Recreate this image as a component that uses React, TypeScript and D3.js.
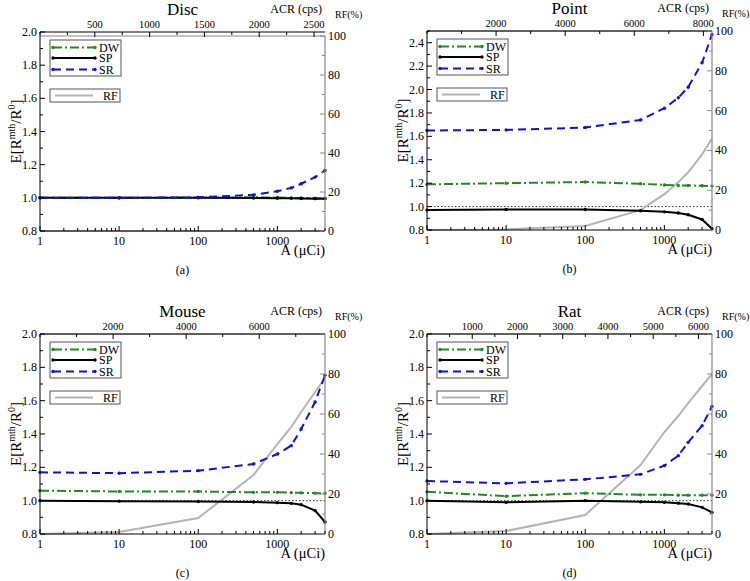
import * as d3 from 'd3';

// activity grid (µCi) shared by every panel
const activity = [1, 10, 100, 500, 1000, 1500, 2000, 3000, 4000];

// Disc
const discDW = [1.0, 1.0, 1.002, 1.003, 1.002, 1.0, 0.999, 0.998, 0.997];
const discSP = [1.0, 1.0, 1.0, 0.999, 0.998, 0.997, 0.996, 0.995, 0.995];
const discSR = [1.0, 1.0, 1.003, 1.018, 1.04, 1.06, 1.085, 1.125, 1.165];
const discRF = [0, 0, 0, 0, 0, 0, 0, 0, 0];

// Point
const pointDW = [1.19, 1.2, 1.21, 1.195, 1.185, 1.18, 1.18, 1.178, 1.175];
const pointSP = [0.97, 0.975, 0.975, 0.965, 0.955, 0.945, 0.93, 0.89, 0.81];
const pointSR = [1.65, 1.655, 1.675, 1.74, 1.84, 1.93, 2.02, 2.23, 2.47];
const pointRF = [0, 0.3, 2, 10, 18, 24, 29, 38, 46];

// Mouse
const mouseDW = [1.06, 1.055, 1.055, 1.05, 1.05, 1.048, 1.047, 1.045, 1.045];
const mouseSP = [1.0, 0.997, 0.995, 0.992, 0.988, 0.984, 0.976, 0.94, 0.872];
const mouseSR = [1.17, 1.165, 1.18, 1.22, 1.28, 1.33, 1.43, 1.592, 1.752];
const mouseRF = [0, 1, 8, 29.5, 45, 53.5, 61, 71, 78];

// Rat
const ratDW = [1.053, 1.027, 1.045, 1.035, 1.035, 1.033, 1.033, 1.033, 1.033];
const ratSP = [1.0, 0.99, 1.0, 0.993, 0.99, 0.985, 0.98, 0.96, 0.93];
const ratSR = [1.118, 1.104, 1.128, 1.158, 1.21, 1.27, 1.35, 1.45, 1.565];
const ratRF = [0, 1.5, 9.5, 34.5, 51, 59, 65.5, 74, 80];

// tick labels
const activityTicks = [1, 10, 100, 1000];
const rfTicks = [0, 20, 40, 60, 80, 100];
const ratioTicks = [0.8, 1.0, 1.2, 1.4, 1.6, 1.8, 2.0];
const pointRatioTicks = [0.8, 1.0, 1.2, 1.4, 1.6, 1.8, 2.0, 2.2, 2.4];
const discAcrTicks = [500, 1000, 1500, 2000, 2500];
const pointAcrTicks = [2000, 4000, 6000, 8000];
const mouseAcrTicks = [2000, 4000, 6000];
const ratAcrTicks = [1000, 2000, 3000, 4000, 5000, 6000];

const FONT = "'Liberation Serif', 'Times New Roman', serif";
const GREEN = '#1f8a1f';
const BLUE = '#1212cc';
const GRAY = '#b4b4b4';

type PanelCfg = {
  title: string;
  tag: string;
  left: number;
  right: number;
  top: number;
  bottom: number;
  rfTop: number;
  yMax: number;
  yTicks: number[];
  acrMax: number;
  acrTicks: number[];
  acrMinor: number;
  dw: number[];
  sp: number[];
  sr: number[];
  rf: number[];
};

const panels: PanelCfg[] = [
  { title: 'Disc', tag: '(a)', left: 40, right: 325, top: 32, bottom: 231, rfTop: 36, yMax: 2.0, yTicks: ratioTicks,
    acrMax: 2600, acrTicks: discAcrTicks, acrMinor: 250, dw: discDW, sp: discSP, sr: discSR, rf: discRF },
  { title: 'Point', tag: '(b)', left: 427, right: 712, top: 31, bottom: 230, rfTop: 31, yMax: 2.5, yTicks: pointRatioTicks,
    acrMax: 8250, acrTicks: pointAcrTicks, acrMinor: 1000, dw: pointDW, sp: pointSP, sr: pointSR, rf: pointRF },
  { title: 'Mouse', tag: '(c)', left: 40, right: 325, top: 334, bottom: 534, rfTop: 334, yMax: 2.0, yTicks: ratioTicks,
    acrMax: 7800, acrTicks: mouseAcrTicks, acrMinor: 1000, dw: mouseDW, sp: mouseSP, sr: mouseSR, rf: mouseRF },
  { title: 'Rat', tag: '(d)', left: 427, right: 712, top: 334, bottom: 534, rfTop: 334, yMax: 2.0, yTicks: ratioTicks,
    acrMax: 6300, acrTicks: ratAcrTicks, acrMinor: 500, dw: ratDW, sp: ratSP, sr: ratSR, rf: ratRF },
];

const series = [
  { key: 'dw', label: 'DW', color: GREEN, dash: '9,3,2,3', width: 2 },
  { key: 'sp', label: 'SP', color: '#000', dash: undefined, width: 2 },
  { key: 'sr', label: 'SR', color: BLUE, dash: '8,5', width: 2 },
] as const;

function Panel({ c }: { c: PanelCfg }) {
  const x = d3.scaleLog().domain([1, 4000]).range([c.left, c.right]);
  const y = d3.scaleLinear().domain([0.8, c.yMax]).range([c.bottom, c.top]);
  const yRf = d3.scaleLinear().domain([0, 100]).range([c.bottom, c.rfTop]);
  const xAcr = d3.scaleLinear().domain([0, c.acrMax]).range([c.left, c.right]);

  const line = d3.line<number>().x((_, i) => x(activity[i])).y(v => y(v));
  const rfLine = d3.line<number>().x((_, i) => x(activity[i])).y(v => yRf(v));

  const logMinor: number[] = [];
  activityTicks.forEach(d => {
    for (let k = 2; k <= 9; k++) if (d * k <= 4000) logMinor.push(d * k);
  });
  const yMinor = d3.range(0.9, c.yMax + 0.001, 0.2);
  const rfMinor = d3.range(10, 100, 20);
  const acrMinor = d3.range(0, c.acrMax, c.acrMinor).filter(v => !c.acrTicks.includes(v));

  const cx = (c.left + c.right) / 2;
  const cy = (c.top + c.bottom) / 2;
  const lx = c.left + 10;
  const ly = c.top + 8;
  const rows = [15.5, 26, 37.5];

  return (
    <g fontFamily={FONT} fill="#000">
      {/* reference line at 1.0 */}
      <line x1={c.left} x2={c.right} y1={y(1)} y2={y(1)} stroke="#000" strokeWidth={0.8} strokeDasharray="1.5,2" />

      {/* RF */}
      <path d={rfLine(c.rf) ?? ''} fill="none" stroke={GRAY} strokeWidth={2} />

      {series.map(s => {
        const vals = c[s.key];
        return (
          <g key={s.key}>
            <path d={line(vals) ?? ''} fill="none" stroke={s.color} strokeWidth={s.width} strokeDasharray={s.dash} />
            {vals.map((v, i) => (
              <circle key={i} cx={x(activity[i])} cy={y(v)} r={1.7} fill={s.color} />
            ))}
          </g>
        );
      })}

      {/* frame */}
      <line x1={c.left} x2={c.right} y1={c.rfTop} y2={c.rfTop} stroke="#888" strokeWidth={1} />
      <line x1={c.right} x2={c.right} y1={c.rfTop} y2={c.bottom} stroke="#888" strokeWidth={1.2} />
      <line x1={c.left} x2={c.right} y1={c.top} y2={c.top} stroke="#000" strokeWidth={1} />
      <line x1={c.left} x2={c.left} y1={c.top} y2={c.bottom} stroke="#000" strokeWidth={1} />
      <line x1={c.left} x2={c.right} y1={c.bottom} y2={c.bottom} stroke="#000" strokeWidth={1} />

      {/* bottom log axis */}
      {activityTicks.map(t => (
        <g key={'b' + t}>
          <line x1={x(t)} x2={x(t)} y1={c.bottom} y2={c.bottom - 5} stroke="#000" />
          <text x={x(t)} y={c.bottom + 13.5} fontSize={12} textAnchor="middle">{t}</text>
        </g>
      ))}
      {logMinor.map(t => (
        <line key={'bm' + t} x1={x(t)} x2={x(t)} y1={c.bottom} y2={c.bottom - 3} stroke="#000" />
      ))}
      <text x={c.right} y={c.bottom + 24} fontSize={14.5} textAnchor="end">A (μCi)</text>
      <text x={cx} y={c.bottom + 43} fontSize={12} textAnchor="middle">{c.tag}</text>

      {/* left axis */}
      {c.yTicks.map(t => (
        <g key={'l' + t}>
          <line x1={c.left} x2={c.left + 5} y1={y(t)} y2={y(t)} stroke="#000" />
          <text x={c.left - 3} y={y(t) + 4} fontSize={12} textAnchor="end">{t.toFixed(1)}</text>
        </g>
      ))}
      {yMinor.map(t => (
        <line key={'lm' + t} x1={c.left} x2={c.left + 3} y1={y(t)} y2={y(t)} stroke="#000" />
      ))}
      <text transform={`translate(${c.left - 19},${cy}) rotate(-90)`} fontSize={15} textAnchor="middle">
        E[R<tspan dy={-6} fontSize={10}>mth</tspan>
        <tspan dy={6}>/R</tspan>
        <tspan dy={-6} fontSize={10}>0</tspan>
        <tspan dy={6}>]</tspan>
      </text>

      {/* right RF axis */}
      {rfTicks.map(t => (
        <g key={'r' + t}>
          <line x1={c.right} x2={c.right - 5} y1={yRf(t)} y2={yRf(t)} stroke="#888" />
          <text x={c.right + 3} y={yRf(t) + 4} fontSize={12}>{t}</text>
        </g>
      ))}
      {rfMinor.map(t => (
        <line key={'rm' + t} x1={c.right} x2={c.right - 3} y1={yRf(t)} y2={yRf(t)} stroke="#888" />
      ))}
      <text x={c.right + 10} y={c.top - 14} fontSize={10}>RF(%)</text>

      {/* top ACR axis */}
      {c.acrTicks.map(t => (
        <g key={'t' + t}>
          <line x1={xAcr(t)} x2={xAcr(t)} y1={c.top} y2={c.top + 5} stroke="#000" />
          <text x={xAcr(t)} y={c.top - 4} fontSize={10.5} textAnchor="middle">{t}</text>
        </g>
      ))}
      {acrMinor.map(t => (
        <line key={'tm' + t} x1={xAcr(t)} x2={xAcr(t)} y1={c.top} y2={c.top + 3} stroke="#000" />
      ))}
      <text x={c.right - 3} y={c.top - 19} fontSize={12} textAnchor="end">ACR (cps)</text>
      <text x={cx} y={c.top - 17.5} fontSize={17} textAnchor="middle">{c.title}</text>

      {/* legend */}
      <rect x={lx} y={ly} width={71} height={36} fill="#fff" stroke="#555" strokeWidth={1} />
      {series.map((s, i) => (
        <g key={'lg' + s.key}>
          <line x1={lx + 3} x2={lx + 45} y1={c.top + rows[i]} y2={c.top + rows[i]} stroke={s.color}
            strokeWidth={s.width} strokeDasharray={s.dash} />
          <circle cx={lx + 3} cy={c.top + rows[i]} r={1.7} fill={s.color} />
          <circle cx={lx + 45} cy={c.top + rows[i]} r={1.7} fill={s.color} />
          <text x={lx + 49} y={c.top + rows[i] + 4} fontSize={12}>{s.label}</text>
        </g>
      ))}
      <rect x={lx} y={c.top + 57} width={70} height={13} fill="#fff" stroke="#555" strokeWidth={1} />
      <line x1={lx + 5} x2={lx + 43} y1={c.top + 63.5} y2={c.top + 63.5} stroke={GRAY} strokeWidth={2} />
      <text x={lx + 53} y={c.top + 68} fontSize={12}>RF</text>
    </g>
  );
}

export default function App() {
  return (
    <svg width={750} height={581} style={{ position: 'absolute', left: 0, top: 0, background: '#fff' }}>
      <rect width={750} height={581} fill="#fff" />
      {panels.map(p => (
        <Panel key={p.tag} c={p} />
      ))}
    </svg>
  );
}
